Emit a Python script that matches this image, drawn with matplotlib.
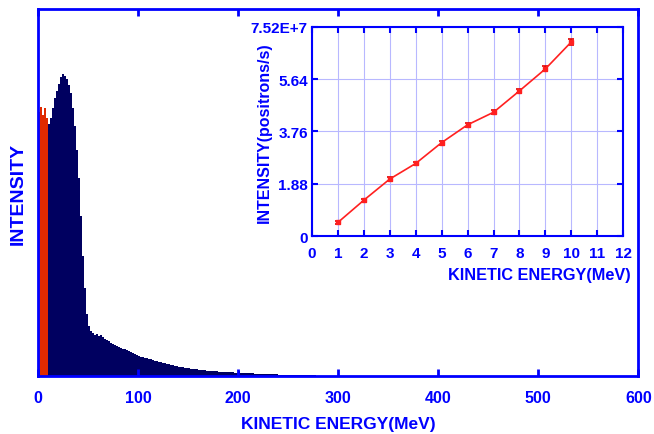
import matplotlib
matplotlib.use("Agg")
import matplotlib.pyplot as plt
import numpy as np

plt.rcParams['font.family'] = ['Liberation Sans', 'DejaVu Sans']
plt.rcParams['font.weight'] = 'bold'

BLUE = '#0000ff'
NAVY = '#000060'
RED = '#e02a00'

# Main histogram: 2 MeV bins (heights in arbitrary units)
bin_width = 2.0
red_counts = [264, 269, 261, 268, 258]  # 0-10 MeV
navy_counts = [
    252, 258, 268, 278, 285, 292, 299, 302, 300, 297,   # 10-30
    291, 283, 268, 250, 226, 198, 160, 120, 88, 62,     # 30-50
    50, 45, 43, 41, 42, 40, 41, 39, 37, 36,             # 50-70
    35, 33, 32, 31, 30, 29, 28, 27, 27, 26,             # 70-90
    25, 24, 23, 22, 21, 20, 19, 19, 18, 18,             # 90-110
    17, 17, 16, 15, 15, 14, 14, 13, 13, 12,             # 110-130
    12, 11, 11, 10, 10, 9.5, 9, 9, 8.5, 8,              # 130-150
    8, 7.5, 7, 7, 7, 6.5, 6, 6, 6, 5.5,                 # 150-170
    5.5, 5, 5, 5, 4.8, 4.5, 4.5, 4.3, 4.2, 4,           # 170-190
    4, 3.8, 3.7, 3.5, 3.5, 5, 3.4, 3.2, 3, 3,           # 190-210
    3, 2.9, 2.8, 2.6, 2.5, 2.5, 2.4, 2.2, 2.1, 2,       # 210-230
    2, 1.9, 1.9, 1.8, 1.7, 1.6, 1.6, 1.5, 1.5, 1.4,     # 230-250
    1.4, 1.3, 1.3, 1.2, 1.1, 1.1, 1.0, 1.0, 0.9, 0.9,   # 250-270
    0.8, 0.8, 0.7, 0.7, 0.6, 0.6, 0.5, 0.5, 0.4, 0.4,   # 270-290
    0.4, 0.3, 0.3, 0.3, 0.2,                            # 290-300
]

# Inset data
inset_energy = [1, 2, 3, 4, 5, 6, 7, 8, 9, 10]
inset_intensity = [0.49e7, 1.29e7, 2.05e7, 2.61e7, 3.36e7, 4.00e7, 4.45e7, 5.22e7, 6.01e7, 6.98e7]
inset_error = [0.04e7, 0.05e7, 0.06e7, 0.06e7, 0.07e7, 0.07e7, 0.08e7, 0.08e7, 0.09e7, 0.11e7]
inset_yticks = [0, 1.88e7, 3.76e7, 5.64e7, 7.52e7]
inset_yticklabels = ['0', '1.88', '3.76', '5.64', '7.52E+7']

fig = plt.figure(figsize=(6.54, 4.35), dpi=100)

ax = fig.add_axes([0.058, 0.133, 0.918, 0.844])
red_x = np.arange(len(red_counts)) * bin_width
navy_x = (len(red_counts) + np.arange(len(navy_counts))) * bin_width
ax.bar(red_x, red_counts, width=bin_width, align='edge', color=RED, linewidth=0)
ax.bar(navy_x, navy_counts, width=bin_width, align='edge', color=NAVY, linewidth=0)
ax.set_xlim(0, 600)
ax.set_ylim(0, 367)
ax.set_xticks([0, 100, 200, 300, 400, 500, 600])
ax.set_yticks([])
ax.tick_params(axis='x', direction='in', length=5, width=2, colors=BLUE,
               labelsize=11.5, pad=10, top=True)
for lbl in ax.get_xticklabels():
    lbl.set_fontweight('bold')
for s in ax.spines.values():
    s.set_color(BLUE)
    s.set_linewidth(2)
ax.set_xlabel('KINETIC ENERGY(MeV)', color=BLUE, fontsize=12.5, fontweight='bold')
ax.xaxis.set_label_coords(0.5, -0.128)
ax.xaxis.label.set_verticalalignment('center')
ax.set_ylabel('INTENSITY', color=BLUE, fontsize=14, fontweight='bold')
ax.yaxis.set_label_coords(-0.018, 0.5)

ins = fig.add_axes([0.477, 0.455, 0.476, 0.481])
ins.grid(True, color='#b8b8ff', linewidth=0.8)
ins.set_axisbelow(True)
ins.errorbar(inset_energy, inset_intensity, yerr=inset_error, color='#ff2020',
             ecolor='#e00000', marker='s', markersize=2.5, linewidth=1.2,
             capsize=2.5, elinewidth=1.2, capthick=1.2)
ins.set_xlim(0, 12)
ins.set_ylim(0, 7.52e7)
ins.set_xticks(range(0, 13))
ins.set_yticks(inset_yticks)
ins.set_yticklabels(inset_yticklabels)
ins.tick_params(direction='in', length=4, width=1.5, colors=BLUE, labelsize=11,
                top=True, right=True)
ins.tick_params(axis='x', pad=7)
ins.tick_params(axis='y', pad=3)
for lbl in ins.get_xticklabels() + ins.get_yticklabels():
    lbl.set_fontweight('bold')
for s in ins.spines.values():
    s.set_color(BLUE)
    s.set_linewidth(1.5)
ins.set_xlabel('KINETIC ENERGY(MeV)', color=BLUE, fontsize=11.7, fontweight='bold')
ins.xaxis.set_label_coords(1.023, -0.182)
ins.xaxis.label.set_horizontalalignment('right')
ins.xaxis.label.set_verticalalignment('center')
ins.set_ylabel('INTENSITY(positrons/s)', color=BLUE, fontsize=11.5, fontweight='bold')
ins.yaxis.set_label_coords(-0.129, 0.5)

fig.savefig('out.png', dpi=100)
